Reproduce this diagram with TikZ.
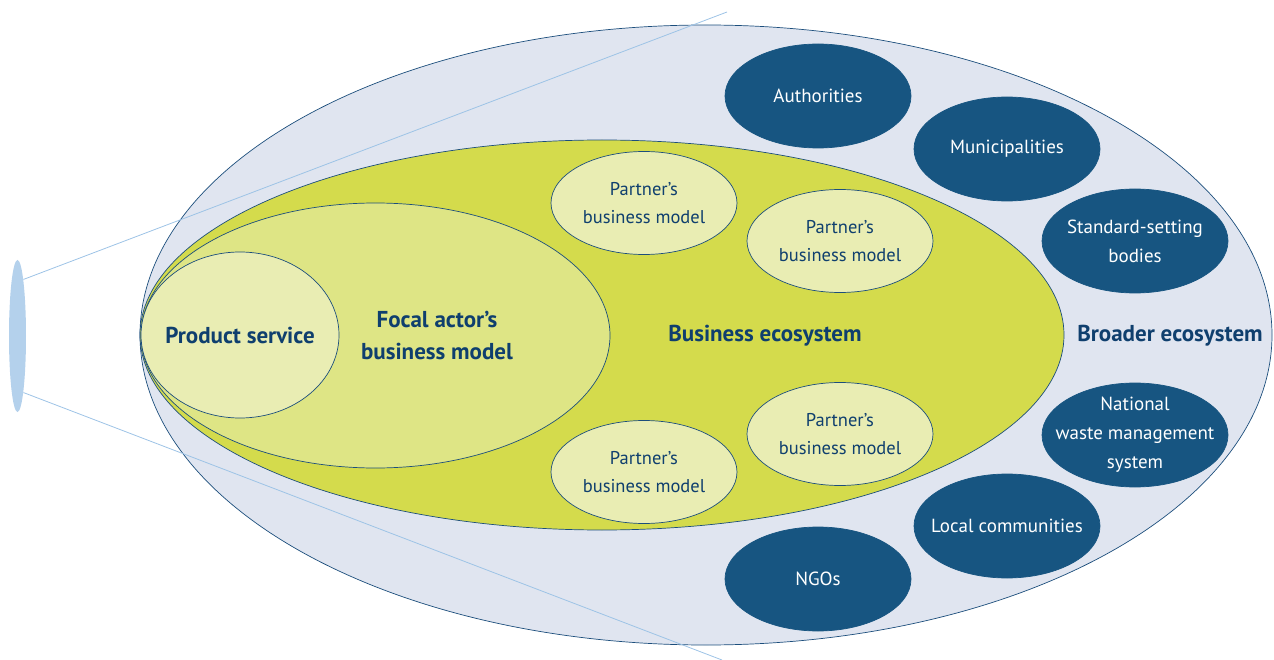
\documentclass[tikz,border=0pt]{standalone}
\usepackage{fontspec}
\setmainfont{PT Sans}
\usetikzlibrary{shapes.geometric}

\definecolor{rimblue}{HTML}{1C4E7C}
\definecolor{inkblue}{HTML}{0F3F6E}
\definecolor{deepblue}{HTML}{175581}
\definecolor{mistblue}{HTML}{E0E5F0}
\definecolor{limegreen}{HTML}{D4DB4C}
\definecolor{softgreen}{HTML}{DEE585}
\definecolor{paleyellow}{HTML}{E9EDB3}
\definecolor{lensblue}{HTML}{B4D1EC}
\definecolor{rayblue}{HTML}{9DC3E6}

\begin{document}
\begin{tikzpicture}[
    x=1pt, y=-1pt,
    line width=0.7pt,
    blob/.style={ellipse, draw=rimblue, inner sep=0pt, align=center},
    partner/.style={blob, fill=paleyellow, text=inkblue, minimum width=186pt, minimum height=103pt, font=\fontsize{18.5}{28}\selectfont},
    actor/.style={blob, draw=deepblue, fill=deepblue, text=white, minimum width=186pt, minimum height=104pt, inner xsep=-14pt, inner ysep=-12pt, font=\fontsize{19}{29}\selectfont},
    heading/.style={text=inkblue, align=center, font=\bfseries\fontsize{23}{32}\selectfont}
]
    \useasboundingbox (0,0) rectangle (1274,660);

    % outer ring
    \node[blob, fill=mistblue, minimum width=1132pt, minimum height=620pt](broader) at (706,335){};
    \node[heading] at (1170,336){Broader ecosystem};

    % zoom lens
    \node[ellipse, fill=lensblue, minimum width=17pt, minimum height=152pt, inner sep=0pt](lens) at (17.5,336){};
    \coordinate (lens_top) at (727,12);
    \coordinate (lens_bottom) at (722,660);
    \draw[rayblue, line width=0.8pt](lens.84) -- (lens_top);
    \draw[rayblue, line width=0.8pt](lens.-84) -- (lens_bottom);

    % business ecosystem
    \node[blob, fill=limegreen, minimum width=924pt, minimum height=390pt](ecosystem) at (602,335){};
    \node[heading] at (765,336){Business ecosystem};

    \node[blob, fill=softgreen, minimum width=469pt, minimum height=265pt](focal) at (375.5,335.5){};
    \node[heading] at (437,336){Focal actor's\\business model};

    \node[blob, fill=paleyellow, text=inkblue, minimum width=198pt, minimum height=166pt, inner xsep=-12pt, font=\bfseries\fontsize{23}{32}\selectfont](product) at (240,335){Product service};

    % partners
    \node[partner](partner_a) at (644,203){Partner's\\business model};
    \node[partner](partner_b) at (840,241){Partner's\\business model};
    \node[partner](partner_c) at (840,434){Partner's\\business model};
    \node[partner](partner_d) at (644,472){Partner's\\business model};

    % broader actors
    \node[actor](authorities) at (818,96){Authorities};
    \node[actor](municipalities) at (1007,149){Municipalities};
    \node[actor](standards) at (1135,241){Standard-setting\\bodies};
    \node[actor](waste) at (1135,435){National\\waste management\\system};
    \node[actor](communities) at (1007,526){Local communities};
    \node[actor](ngos) at (818,579){NGOs};
\end{tikzpicture}
\end{document}
